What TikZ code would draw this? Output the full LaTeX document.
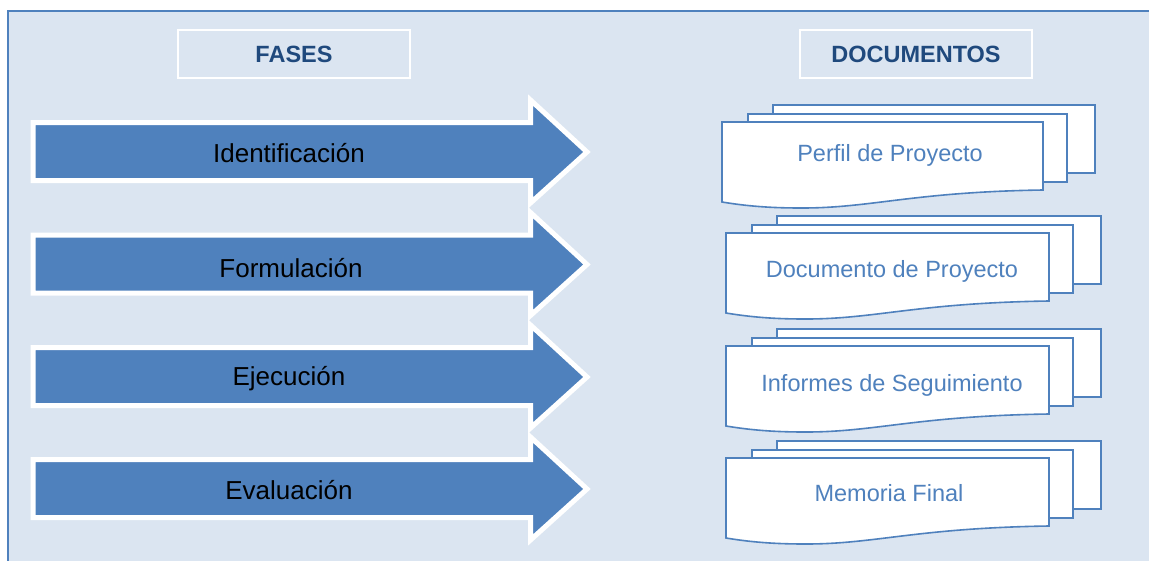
\documentclass[tikz,border=0pt]{standalone}
\usepackage{fontspec}
\setmainfont{Liberation Sans}
\definecolor{bgblue}{HTML}{DBE5F1}
\definecolor{midblue}{HTML}{4F81BD}
\definecolor{darkblue}{HTML}{1F497D}
\tikzset{
  phasearrow/.style={fill=midblue, draw=white, line width=5pt, miter limit=10},
  sheet/.style={fill=white, draw=midblue, line width=1.6pt, line join=miter},
  header/.style={draw=white, line width=1.8pt, fill=bgblue, minimum width=232pt, minimum height=48pt, inner sep=0pt, font=\fontsize{23.5}{26}\selectfont\bfseries, text=darkblue},
  phaselabel/.style={font=\fontsize{26}{28}\selectfont, text=black, inner sep=0pt},
  doclabel/.style={font=\fontsize{23.5}{26}\selectfont, text=midblue, inner sep=0pt}
}
\newcommand{\phasearrowat}[1]{%
  \path[phasearrow] (33,#1-29.5) -- (530.5,#1-29.5) -- (530.5,#1-52) -- (587,#1) -- (530.5,#1+51) -- (530.5,#1+28.5) -- (33,#1+28.5) -- cycle;}
% #1 x of front left, #2 y of front top, #3 width
\newcommand{\multidocat}[3]{%
  \path[sheet] (#1+51,#2-17) rectangle (#1+51+#3+1,#2-17+68);
  \path[sheet] (#1+26,#2-8) rectangle (#1+26+#3-2,#2-8+68);
  \path[sheet] (#1,#2) -- (#1+#3,#2) -- (#1+#3,#2+68)
     .. controls (#1+190,#2+70) and (#1+150,#2+86) .. (#1+80,#2+86)
     .. controls (#1+55,#2+86) and (#1+30,#2+85) .. (#1,#2+80) -- cycle;}
\begin{document}
\begin{tikzpicture}[x=1pt,y=-1pt]
\useasboundingbox (0,0) rectangle (1149,560);
\clip (0,0) rectangle (1149,560);
\fill[white] (0,0) rectangle (1149,560);
\path[fill=bgblue, draw=midblue, line width=2pt] (8,11) rectangle (1300,700);
% headers
\node[header] (fases) at (294,54) {FASES};
\node[header] (docs) at (916,54) {DOCUMENTOS};
% arrows
\phasearrowat{152}
\phasearrowat{264.5}
\phasearrowat{377}
\phasearrowat{489}
\node[phaselabel] (ident) at (289,153.5) {Identificación};
\node[phaselabel] (formu) at (291,268) {Formulación};
\node[phaselabel] (ejec) at (289,378.5) {Ejecución};
\node[phaselabel] (eval) at (289,490.5) {Evaluación};
% documents
\multidocat{722}{122}{321}
\multidocat{726}{233}{323}
\multidocat{726}{346}{323}
\multidocat{726}{458}{323}
\node[doclabel] (perfil) at (890,155) {Perfil de Proyecto};
\node[doclabel] (docproy) at (892,271) {Documento de Proyecto};
\node[doclabel] (informes) at (892,385) {Informes de Seguimiento};
\node[doclabel] (memoria) at (889,493) {Memoria Final};
\end{tikzpicture}
\end{document}
